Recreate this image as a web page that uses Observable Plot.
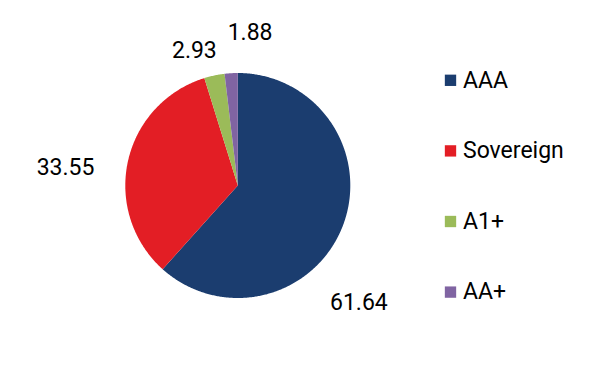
<!DOCTYPE html>
<html>
<head>
<meta charset="utf-8">
<script src="https://cdn.jsdelivr.net/npm/d3@7"></script>
<script src="https://cdn.jsdelivr.net/npm/@observablehq/plot@0.6"></script>
<style>
  html, body { margin: 0; padding: 0; background: #fff; }
  svg { display: block; }
</style>
</head>
<body>
<div id="chart"></div>
<script>
// ---- data ----
const categories = ["AAA", "Sovereign", "A1+", "AA+"];
const values = [61.64, 33.55, 2.93, 1.88];
const labels = ["61.64", "33.55", "2.93", "1.88"];
const colors = ["#1b3d6f", "#e31e25", "#9bbb59", "#8064a2"];

// ---- layout ----
const W = 604, H = 371;
const cx = 237.3, cy = 185, R = 112.5;
const labelR = 165;
// manual label placement tweaks (px), like the original's hand-placed labels
const labelNudge = { "AAA": [-33, 58], "Sovereign": [-11, 17], "A1+": [-9, 26], "AA+": [22, 12] };
const legendX = 450, legendY0 = 79.8, legendStep = 70.6;

const arcs = d3.pie().sort(null).value((d, i) => values[i])(categories);

// polygon points for each slice
const slicePts = [];
arcs.forEach((a, i) => {
  const cat = categories[i];
  slicePts.push({cat, x: cx, y: cy});
  const n = Math.max(2, Math.ceil((a.endAngle - a.startAngle) / (Math.PI / 360)));
  for (let k = 0; k <= n; k++) {
    const t = a.startAngle + (a.endAngle - a.startAngle) * k / n;
    slicePts.push({cat, x: cx + R * Math.sin(t), y: cy - R * Math.cos(t)});
  }
});

const labelData = arcs.map((a, i) => {
  const m = (a.startAngle + a.endAngle) / 2;
  const nd = labelNudge[categories[i]];
  return {
    text: labels[i],
    x: cx + labelR * Math.sin(m) + nd[0],
    y: cy - labelR * Math.cos(m) + nd[1]
  };
});

const legendData = categories.map((c, i) => ({cat: c, x: legendX, y: legendY0 + i * legendStep}));

const chart = Plot.plot({
  width: W,
  height: H,
  margin: 0,
  style: {fontFamily: "Roboto, sans-serif", background: "#fff"},
  x: {domain: [0, W], range: [0, W], axis: null},
  y: {domain: [0, H], range: [0, H], axis: null},
  color: {domain: categories, range: colors},
  marks: [
    Plot.line(slicePts, {x: "x", y: "y", z: "cat", fill: "cat", stroke: "none", curve: "linear"}),
    Plot.text(labelData, {x: "x", y: "y", text: "text", fontSize: 23, fill: "#000"}),
    Plot.dot(legendData, {x: "x", y: "y", symbol: "square", r: 6.4, fill: "cat", stroke: "none"}),
    Plot.text(legendData, {x: "x", y: "y", text: "cat", dx: 12.5, textAnchor: "start", fontSize: 23, fill: "#000"})
  ]
});

document.getElementById("chart").appendChild(chart);
</script>
</body>
</html>
